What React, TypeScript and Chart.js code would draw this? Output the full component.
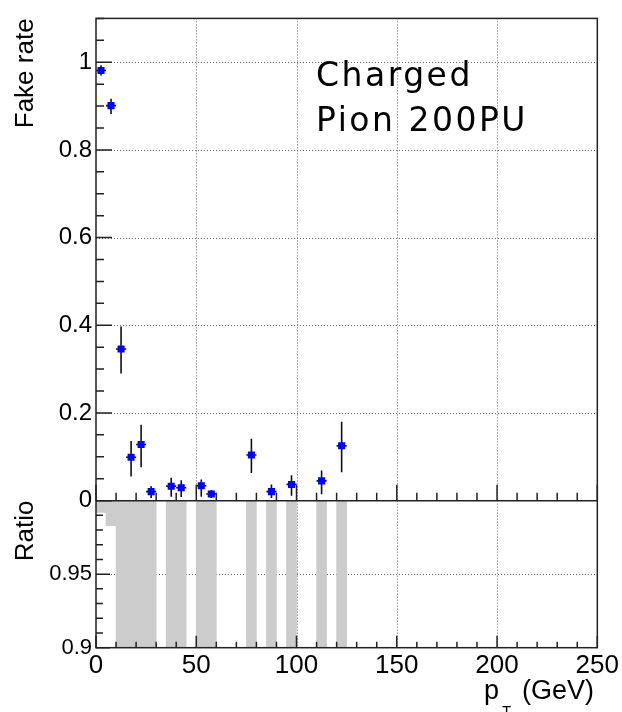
import React, { useEffect, useRef } from 'react';
import { Chart, registerables } from 'chart.js';

Chart.register(...registerables);

// ---- data ----
const binCenters = [2.5, 7.5, 12.5, 17.5, 22.5, 27.5, 37.5, 42.5, 52.5, 57.5, 77.5, 87.5, 97.5, 112.5, 122.5];
const binHalfWidth = 2.5;
const fakeRate = [0.981, 0.901, 0.346, 0.099, 0.128, 0.0205, 0.033, 0.0295, 0.034, 0.015, 0.104, 0.0205, 0.037, 0.045, 0.125];
const fakeRateUp = [0.993, 0.917, 0.397, 0.136, 0.173, 0.033, 0.052, 0.0465, 0.048, 0.024, 0.141, 0.037, 0.058, 0.069, 0.18];
const fakeRateLow = [0.97, 0.882, 0.29, 0.055, 0.076, 0.006, 0.009, 0.008, 0.009, 0.006, 0.063, 0.006, 0.011, 0.0145, 0.065];
const ratioRelErr = [0.008, 0.017, 0.15, 0.4, 0.37, 0.63, 0.6, 0.58, 0.5, 0.6, 0.37, 0.7, 0.6, 0.6, 0.45];
const xTicks = [0, 50, 100, 150, 200, 250];
const xGrid = [50, 100, 150, 200];
const yTicks = [0, 0.2, 0.4, 0.6, 0.8, 1];
const yGrid = [0.2, 0.4, 0.6, 0.8, 1];
const ratioTicks = [0.9, 0.95];
const ratioGrid = [0.95];
const annotationLines = ['Charged', 'Pion 200PU'];
const yTitle = 'Fake rate';
const ratioTitle = 'Ratio';

const FONT = "'Liberation Sans', Arial, Helvetica, sans-serif";
const fmt = (v: number) => String(Number(Number(v).toFixed(2)));

const rootStyle = {
  id: 'rootStyle',
  beforeDatasetsDraw(chart: any) {
    const { ctx } = chart;
    const x = chart.scales.x;
    const y = chart.scales.y;
    const yr = chart.scales.yr;
    ctx.save();
    ctx.strokeStyle = '#666';
    ctx.lineWidth = 1;
    ctx.setLineDash([1, 2]);
    ctx.beginPath();
    for (const v of xGrid) {
      const px = Math.round(x.getPixelForValue(v)) + 0.5;
      ctx.moveTo(px, y.top);
      ctx.lineTo(px, y.bottom);
      ctx.moveTo(px, yr.top);
      ctx.lineTo(px, yr.bottom);
    }
    for (const v of yGrid) {
      const py = Math.round(y.getPixelForValue(v)) + 0.5;
      ctx.moveTo(x.left, py);
      ctx.lineTo(x.right, py);
    }
    for (const v of ratioGrid) {
      const py = Math.round(yr.getPixelForValue(v)) + 0.5;
      ctx.moveTo(x.left, py);
      ctx.lineTo(x.right, py);
    }
    ctx.stroke();
    ctx.restore();
  },
  beforeDatasetDraw(chart: any, args: any) {
    if (args.index !== 0) return;
    const { ctx } = chart;
    const x = chart.scales.x;
    const y = chart.scales.y;
    ctx.save();
    ctx.strokeStyle = '#111';
    ctx.lineWidth = 1.6;
    ctx.beginPath();
    binCenters.forEach((c, i) => {
      const px = x.getPixelForValue(c);
      const py = y.getPixelForValue(fakeRate[i]);
      ctx.moveTo(px, y.getPixelForValue(fakeRateUp[i]));
      ctx.lineTo(px, y.getPixelForValue(fakeRateLow[i]));
      ctx.moveTo(x.getPixelForValue(c - binHalfWidth), py);
      ctx.lineTo(x.getPixelForValue(c + binHalfWidth), py);
    });
    ctx.stroke();
    ctx.restore();
  },
  afterDatasetsDraw(chart: any) {
    const { ctx } = chart;
    const x = chart.scales.x;
    const y = chart.scales.y;
    const yr = chart.scales.yr;
    ctx.save();
    ctx.strokeStyle = '#222';
    ctx.lineWidth = 1.5;
    ctx.setLineDash([]);
    ctx.beginPath();
    // top panel left axis ticks
    for (let k = 0; k <= 22; k++) {
      const v = k * 0.05;
      const major = k % 4 === 0;
      const py = y.getPixelForValue(v);
      ctx.moveTo(x.left, py);
      ctx.lineTo(x.left + (major ? 16 : 8), py);
    }
    // x ticks on the top panel bottom and ratio bottom
    for (let k = 0; k <= 25; k++) {
      const v = k * 10;
      const major = k % 5 === 0;
      const px = x.getPixelForValue(v);
      ctx.moveTo(px, y.bottom);
      ctx.lineTo(px, y.bottom - (major ? 16 : 8));
      ctx.moveTo(px, yr.bottom);
      ctx.lineTo(px, yr.bottom - (major ? 12 : 6));
    }
    // ratio left ticks
    for (let k = 0; k <= 10; k++) {
      const v = 0.9 + k * 0.01;
      const major = k % 5 === 0;
      const py = yr.getPixelForValue(v);
      ctx.moveTo(x.left, py);
      ctx.lineTo(x.left + (major ? 14 : 7), py);
    }
    ctx.stroke();
    // frames
    ctx.strokeRect(x.left, y.top, x.right - x.left, yr.bottom - y.top);
    ctx.beginPath();
    ctx.moveTo(x.left, y.bottom);
    ctx.lineTo(x.right, y.bottom);
    ctx.stroke();

    // annotation
    ctx.fillStyle = '#000';
    ctx.font = "33px 'DejaVu Sans'";
    (ctx as any).letterSpacing = '2.5px';
    ctx.textAlign = 'left';
    ctx.textBaseline = 'alphabetic';
    ctx.fillText(annotationLines[0], 316, 86);
    ctx.fillText(annotationLines[1], 316, 131);
    (ctx as any).letterSpacing = '0px';

    // x title p_T (GeV)
    ctx.font = `27px ${FONT}`;
    ctx.textAlign = 'left';
    ctx.fillText('p', 484, 699);
    ctx.font = `15px ${FONT}`;
    ctx.fillText('T', 502, 716);
    ctx.font = `27px ${FONT}`;
    ctx.textAlign = 'right';
    ctx.fillText('(GeV)', 594, 699);
    ctx.restore();
  },
};

export default function App() {
  const ref = useRef<HTMLCanvasElement | null>(null);
  useEffect(() => {
    if (!ref.current) return;
    const chart = new Chart(ref.current, {
      type: 'scatter',
      data: {
        datasets: [
          {
            type: 'scatter',
            label: yTitle,
            data: binCenters.map((c, i) => ({ x: c, y: fakeRate[i] })),
            xAxisID: 'x',
            yAxisID: 'y',
            pointStyle: 'rect',
            pointRadius: 5,
            backgroundColor: '#0000ff',
            borderWidth: 0,
            order: 0,
          } as any,
          {
            type: 'bar',
            label: ratioTitle,
            data: binCenters.map((c, i) => ({ x: c, y: [1 - ratioRelErr[i], 1 + ratioRelErr[i]] })),
            xAxisID: 'x',
            yAxisID: 'yr',
            backgroundColor: 'rgb(204,204,204)',
            borderWidth: 0,
            barPercentage: 1,
            categoryPercentage: 1,
            clip: 0,
            order: 1,
          } as any,
        ],
      },
      options: {
        animation: false,
        responsive: false,
        events: [],
        layout: { padding: { top: 5, right: 24, left: 0, bottom: 0 } },
        plugins: { legend: { display: false }, tooltip: { enabled: false } },
        scales: {
          x: {
            type: 'linear',
            position: 'bottom',
            min: 0,
            max: 250,
            offset: false,
            afterBuildTicks: (s: any) => { s.ticks = xTicks.map((v) => ({ value: v })); },
            afterFit: (s: any) => { s.height = 64.3; },
            ticks: { font: { family: FONT, size: 26 }, color: '#000', padding: 3, maxRotation: 0, autoSkip: false, callback: (v: any) => fmt(v) },
            grid: { display: false, drawTicks: false },
            border: { display: false },
          },
          yr: {
            type: 'linear',
            position: 'left',
            stack: 'panels',
            stackWeight: 150.2,
            min: 0.9,
            max: 1.0,
            afterBuildTicks: (s: any) => { s.ticks = ratioTicks.map((v) => ({ value: v })); },
            afterFit: (s: any) => { s.width = 96; },
            ticks: { font: { family: FONT, size: 22 }, color: '#000', padding: 4, callback: (v: any) => fmt(v) },
            grid: { display: false, drawTicks: false },
            border: { display: false },
            title: { display: true, text: ratioTitle, align: 'end', color: '#000', font: { family: FONT, size: 26 }, padding: { top: 10, bottom: 0 } },
          },
          y: {
            type: 'linear',
            position: 'left',
            stack: 'panels',
            stackWeight: 492.5,
            min: 0,
            max: 1.1,
            afterBuildTicks: (s: any) => { s.ticks = yTicks.map((v) => ({ value: v })); },
            afterFit: (s: any) => { s.width = 96; },
            ticks: { font: { family: FONT, size: 24 }, color: '#000', padding: 4, callback: (v: any) => fmt(v) },
            grid: { display: false, drawTicks: false },
            border: { display: false },
            title: { display: true, text: yTitle, align: 'end', color: '#000', font: { family: FONT, size: 26 }, padding: { top: 10, bottom: 0 } },
          },
        },
      } as any,
      plugins: [rootStyle],
    });
    return () => chart.destroy();
  }, []);
  return (
    <canvas
      ref={ref}
      width={622}
      height={712}
      style={{ position: 'absolute', left: 0, top: 0, width: 622, height: 712 }}
    />
  );
}
